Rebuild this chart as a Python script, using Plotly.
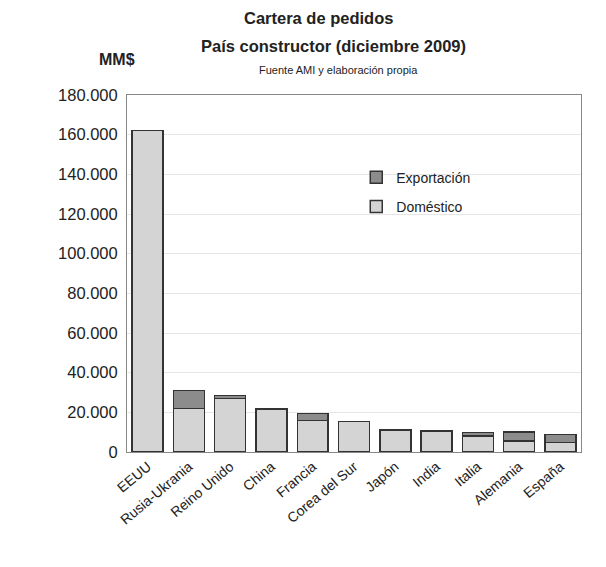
import plotly.graph_objects as go

paises = ["EEUU", "Rusia-Ukrania", "Reino Unido", "China", "Francia", "Corea del Sur",
          "Japón", "India", "Italia", "Alemania", "España"]
domestico = [162000, 22000, 27000, 21500, 16000, 15500, 11000, 10500, 8000, 5500, 4700]
exportacion = [0, 9000, 1500, 300, 3500, 0, 0, 0, 1800, 4700, 4200]
y_ticks = [0, 20000, 40000, 60000, 80000, 100000, 120000, 140000, 160000, 180000]
y_labels = ["0", "20.000", "40.000", "60.000", "80.000", "100.000", "120.000",
            "140.000", "160.000", "180.000"]

font = "Liberation Sans, Arial, sans-serif"

fig = go.Figure()
fig.add_trace(go.Bar(x=paises, y=domestico, name="Doméstico", legendgroup="d",
                     legendrank=2,
                     marker=dict(color="#d4d4d4", line=dict(color="#333333", width=1.5))))
fig.add_trace(go.Bar(x=paises, y=exportacion, name="Exportación", legendgroup="e",
                     legendrank=1,
                     marker=dict(color="#8c8c8c", line=dict(color="#333333", width=1.5))))

fig.update_layout(
    width=606, height=567,
    margin=dict(l=127, r=25, t=95, b=115),
    barmode="stack", bargap=0.25,
    paper_bgcolor="white", plot_bgcolor="white",
    font=dict(family=font, color="#222222"),
    showlegend=True,
    legend=dict(x=0.505, y=0.813, xanchor="left", yanchor="top",
                traceorder="grouped",
                font=dict(size=14, color="#222222"), bgcolor="rgba(0,0,0,0)",
                itemwidth=30, tracegroupgap=8),
    xaxis=dict(tickangle=-40, tickfont=dict(size=14, color="#222222"),
               showline=True, linecolor="#888888", linewidth=1, mirror=True,
               ticks="", showgrid=False),
    yaxis=dict(range=[0, 180000], tickvals=y_ticks, ticktext=y_labels,
               tickfont=dict(size=16.5, color="#222222"), ticklabelstandoff=5,
               showline=True, linecolor="#888888", linewidth=1, mirror=True,
               gridcolor="#e6e6e6", gridwidth=1, zeroline=False, ticks=""),
)

ann = [
    dict(text="<b>Cartera de pedidos</b>", x=318, y=18, size=16.5),
    dict(text="<b>País constructor (diciembre 2009)</b>", x=333, y=46, size=16.5),
    dict(text="Fuente AMI y elaboración propia", x=338, y=70, size=11),
    dict(text="<b>MM$</b>", x=117, y=60, size=16),
]
for a in ann:
    fig.add_annotation(text=a["text"], xref="paper", yref="paper",
                       x=(a["x"] - 127) / (606 - 127 - 25),
                       y=1 + (95 - a["y"]) / (567 - 95 - 115),
                       xanchor="center", yanchor="middle", showarrow=False,
                       font=dict(size=a["size"], family=font, color="#222222"))

fig.write_html("out.html")
